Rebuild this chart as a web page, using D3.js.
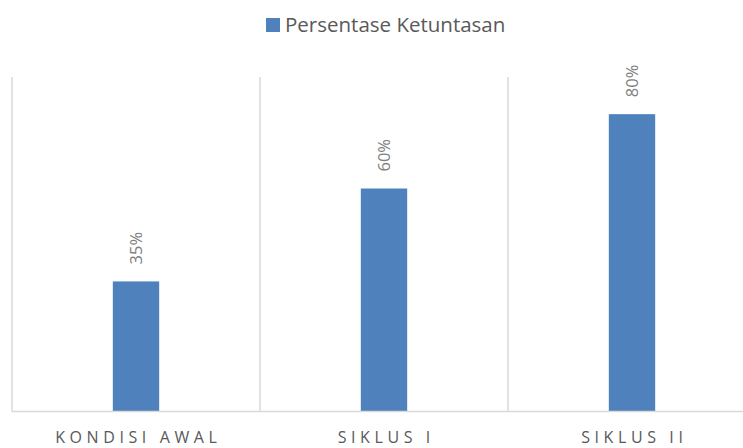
<!DOCTYPE html>
<html>
<head>
<meta charset="utf-8">
<script src="https://cdn.jsdelivr.net/npm/d3@7"></script>
<style>
  body { margin: 0; background: #fff; }
  svg { display: block; font-family: "Open Sans", sans-serif; }
  .catlabel { fill: #595959; font-size: 16px; letter-spacing: 4.6px; }
  .vallabel { fill: #7f7f7f; font-size: 16.5px; }
  .legendtext { fill: #595959; font-size: 20.5px; }
</style>
</head>
<body>
<div id="chart"></div>
<script>
// chart values
const categories = ['KONDISI AWAL', 'SIKLUS I', 'SIKLUS II'];
const seriesName = 'Persentase Ketuntasan';
const values = [0.35, 0.60, 0.80];

const W = 743, H = 448;
const barColor = '#4f81bd';
const gridColor = '#d9d9d9';

const svg = d3.select('#chart').append('svg')
  .attr('width', W)
  .attr('height', H);

// scales - plot area is cropped on the right edge
const x = d3.scaleBand()
  .domain(categories)
  .range([12, 756])
  .padding(0);

const y = d3.scaleLinear()
  .domain([0, 0.9])
  .range([411.5, 77]);

const barW = x.bandwidth() * 0.187;

// vertical category separators
svg.append('g')
  .selectAll('line')
  .data(categories)
  .enter()
  .append('line')
  .attr('x1', d => x(d))
  .attr('x2', d => x(d))
  .attr('y1', y(0.9))
  .attr('y2', y(0))
  .attr('stroke', gridColor)
  .attr('stroke-width', 1.5);

// bars
svg.append('g')
  .selectAll('rect')
  .data(values)
  .enter()
  .append('rect')
  .attr('x', (d, i) => x(categories[i]) + x.bandwidth() / 2 - barW / 2)
  .attr('y', d => y(d))
  .attr('width', barW)
  .attr('height', d => y(0) - y(d))
  .attr('fill', barColor);

// baseline
svg.append('line')
  .attr('x1', 12)
  .attr('x2', W)
  .attr('y1', y(0))
  .attr('y2', y(0))
  .attr('stroke', gridColor)
  .attr('stroke-width', 1.5);

// value labels, rotated
const fmt = d3.format('.0%');
svg.append('g')
  .selectAll('text')
  .data(values)
  .enter()
  .append('text')
  .attr('class', 'vallabel')
  .attr('transform', (d, i) =>
    `translate(${x(categories[i]) + x.bandwidth() / 2 + 6},${y(d) - 17}) rotate(-90)`)
  .attr('text-anchor', 'start')
  .text(d => fmt(d));

// category labels
svg.append('g')
  .selectAll('text')
  .data(categories)
  .enter()
  .append('text')
  .attr('class', 'catlabel')
  .attr('x', d => x(d) + x.bandwidth() / 2 + 2.3)
  .attr('y', 443)
  .attr('text-anchor', 'middle')
  .text(d => d);

// legend
const legend = svg.append('g');
legend.append('rect')
  .attr('x', 266)
  .attr('y', 18)
  .attr('width', 14)
  .attr('height', 14)
  .attr('fill', barColor);
legend.append('text')
  .attr('class', 'legendtext')
  .attr('x', 285)
  .attr('y', 32)
  .text(seriesName);
</script>
</body>
</html>
